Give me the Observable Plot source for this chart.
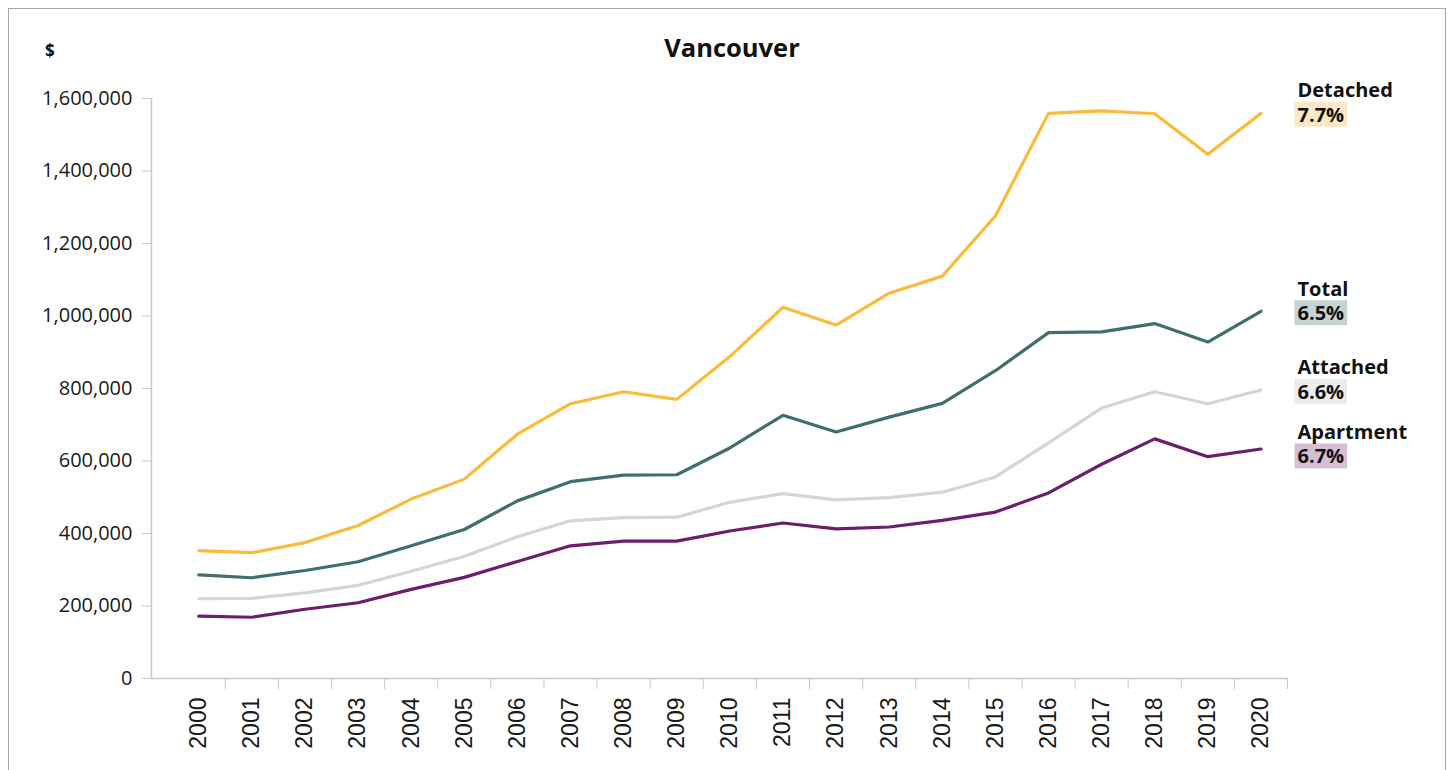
<!DOCTYPE html>
<html>
<head>
<meta charset="utf-8">
<script src="https://cdn.jsdelivr.net/npm/d3@7"></script>
<script src="https://cdn.jsdelivr.net/npm/@observablehq/plot@0.6"></script>
<style>
  html, body { margin: 0; padding: 0; background: #fff; }
  body { font-family: "Open Sans", sans-serif; width: 1450px; height: 770px; overflow: hidden; position: relative; }
  #frame { position: absolute; left: 8px; top: 8px; width: 1436px; height: 800px; border: 1px solid #a8a8a8; }
  #header { position: relative; height: 61px; }
  #unit { position: absolute; left: 36px; top: 30px; font-size: 17px; font-weight: bold; color: #111; }
  #title { position: absolute; left: 723px; top: 21px; transform: translateX(-50%); font-size: 25.5px; font-weight: bold; color: #111; white-space: nowrap; }
  #chart svg { display: block; }
</style>
</head>
<body>
<div id="frame">
  <div id="header">
    <div id="unit">$</div>
    <div id="title">Vancouver</div>
  </div>
  <div id="chart"></div>
</div>
<script>
const years = [2000, 2001, 2002, 2003, 2004, 2005, 2006, 2007, 2008, 2009, 2010,
               2011, 2012, 2013, 2014, 2015, 2016, 2017, 2018, 2019, 2020];
const detached  = [353000, 347000, 375000, 422000, 495000, 550000, 674000, 758000, 791000, 770000, 888000,
                   1024000, 975000, 1063000, 1110000, 1276000, 1559000, 1566000, 1558000, 1446000, 1559000];
const total     = [286000, 278000, 298000, 322000, 366000, 411000, 490000, 543000, 561000, 562000, 636000,
                   726000, 680000, 721000, 759000, 849000, 954000, 956000, 979000, 928000, 1013000];
const attached  = [220000, 221000, 236000, 257000, 296000, 337000, 391000, 435000, 444000, 445000, 486000,
                   510000, 493000, 499000, 514000, 556000, 650000, 746000, 791000, 758000, 796000];
const apartment = [172000, 169000, 191000, 209000, 246000, 279000, 323000, 366000, 379000, 379000, 407000,
                   429000, 413000, 418000, 436000, 459000, 512000, 591000, 661000, 612000, 633000];
const seriesNames = ["Detached", "Total", "Attached", "Apartment"];
const growth = ["7.7%", "6.5%", "6.6%", "6.7%"];
const yTicks = [0, 200000, 400000, 600000, 800000, 1000000, 1200000, 1400000, 1600000];

const lineColors = ["#fbbb3a", "#3e6e6e", "#d5d5d5", "#6b1d6e"];
const badgeColors = ["#fde8c4", "#c4d4d4", "#ececec", "#d8bdd6"];
const labelDy = [2, 2.5, 2.5, 8];

const seriesValues = [detached, total, attached, apartment];
const rows = [];
seriesNames.forEach((s, i) => years.forEach((yr, j) => rows.push({series: s, year: yr, value: seriesValues[i][j]})));
const ends = seriesNames.map((s, i) => ({series: s, i, value: seriesValues[i][seriesValues[i].length - 1], pct: growth[i]}));

const xMin = 1999.11, xMax = 2020.5;
const boundaries = years.map(y => y + 0.5);

const labelMarks = ends.flatMap((e, k) => [
  Plot.text([e], {x: () => xMax, y: "value", text: "pct", dx: 10, dy: labelDy[k], textAnchor: "start",
                  fontSize: 20, fontWeight: "bold", fill: "#111"}),
  Plot.text([e], {x: () => xMax, y: "value", text: "series", dx: 10, dy: labelDy[k] - 24.5, textAnchor: "start",
                  fontSize: 20, fontWeight: "bold", fill: "#111"})
]);

const plot = Plot.plot({
  width: 1436,
  height: 700,
  marginLeft: 142,
  marginRight: 158,
  marginTop: 28,
  marginBottom: 92,
  style: {fontFamily: "Open Sans", background: "transparent", overflow: "visible"},
  x: {type: "linear", domain: [xMin, xMax]},
  y: {domain: [0, 1600000]},
  color: {domain: seriesNames, range: lineColors},
  marks: [
    Plot.axisY({ticks: yTicks, tickSize: 9, tickPadding: 10, tickFormat: d3.format(","),
                stroke: "#c8c8c8", fill: "#1a1a1a", fontSize: 20, label: null}),
    Plot.axisX({ticks: boundaries, tickSize: 11, tickFormat: () => "", stroke: "#c8c8c8", label: null}),
    Plot.axisX({ticks: years, tickSize: 0, tickPadding: 19, tickRotate: -90, tickFormat: d => String(d),
                fontSize: 23, fontFamily: "Liberation Sans, Arial, sans-serif", fill: "#1a1a1a", label: null}),
    Plot.ruleX([xMin], {y1: 0, y2: 1600000, stroke: "#c8c8c8", strokeWidth: 1.5}),
    Plot.ruleY([0], {x1: xMin, x2: xMax, stroke: "#c8c8c8", strokeWidth: 1.5}),
    Plot.line(rows, {x: "year", y: "value", z: "series", stroke: "series", strokeWidth: 3.2, strokeLinejoin: "miter"}),
    ...labelMarks
  ]
});

document.getElementById("chart").appendChild(plot);

// highlight boxes behind growth figures
d3.select(plot).selectAll("text").each(function() {
  const k = growth.indexOf(this.textContent.trim());
  if (k < 0) return;
  const bb = this.getBBox();
  d3.select(this.parentNode).insert("rect", () => this)
    .attr("x", bb.x - 3).attr("y", bb.y + 1).attr("width", bb.width + 6).attr("height", bb.height - 2)
    .attr("transform", this.getAttribute("transform"))
    .attr("fill", badgeColors[k]);
});
</script>
</body>
</html>
